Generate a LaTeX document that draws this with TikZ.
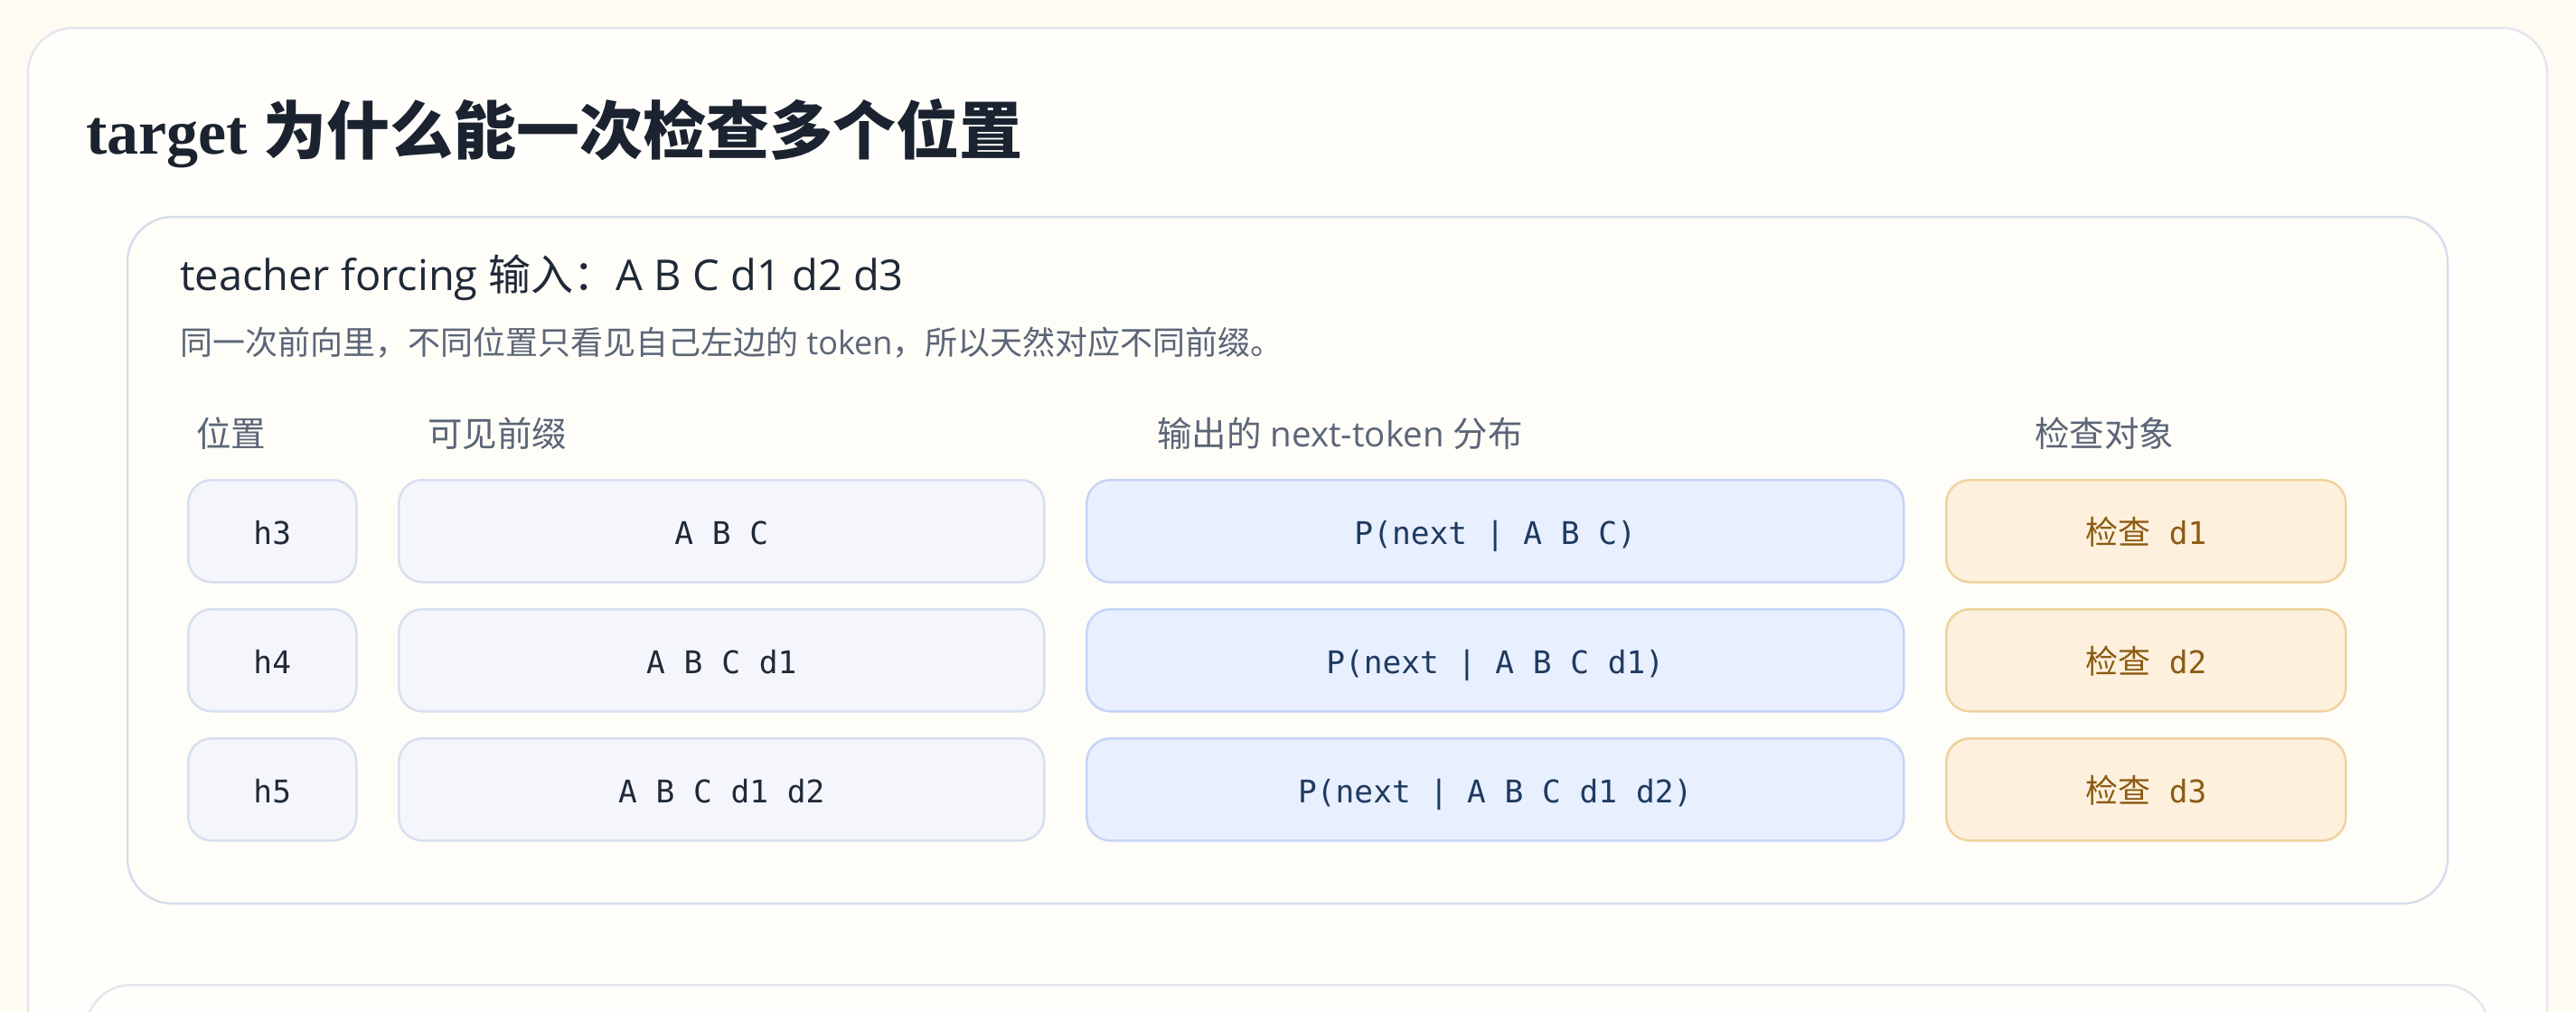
\documentclass[tikz,border=0pt]{standalone}
\usepackage{fontspec}
\setmainfont{Open Sans}
\newfontfamily\cjk{Noto Sans CJK SC}
\newfontfamily\titleserif{Liberation Serif}
\newfontfamily\monof{DejaVu Sans Mono}
\newcommand\setfs[1]{\fontsize{#1}{#1}\selectfont}
\definecolor{bgc}{HTML}{FFFBF2}
\definecolor{outerfill}{HTML}{FFFEFB}
\definecolor{outerline}{HTML}{E3E6EC}
\definecolor{innerfill}{HTML}{FEFDF8}
\definecolor{innerline}{HTML}{D6DEEC}
\definecolor{posfill}{HTML}{F4F6FC}
\definecolor{posline}{HTML}{D7DFEF}
\definecolor{distfill}{HTML}{E8EFFE}
\definecolor{distline}{HTML}{C6D4F6}
\definecolor{chkfill}{HTML}{FDF1DD}
\definecolor{chkline}{HTML}{EFD29E}
\definecolor{chktext}{HTML}{8C5B14}
\definecolor{titlec}{HTML}{1B2330}
\definecolor{headc}{HTML}{1F2937}
\definecolor{grayc}{HTML}{5B6577}
\definecolor{darktext}{HTML}{1F2937}
\definecolor{disttext}{HTML}{1F3A60}
\begin{document}
\begin{tikzpicture}[x=1pt,y=-1pt,
  card/.style={line width=2.5pt, rounded corners=50pt},
  cell/.style={draw, line width=2.5pt, rounded corners=26pt, inner sep=0pt,
    text height=30pt, text depth=0pt, anchor=north west, minimum height=113pt,
    font=\setfs{34.5}\monof},
  poscell/.style={cell, fill=posfill, draw=posline, text=darktext, minimum width=186pt},
  precell/.style={cell, fill=posfill, draw=posline, text=darktext, minimum width=714pt},
  distcell/.style={cell, fill=distfill, draw=distline, text=disttext, minimum width=904pt},
  chkcell/.style={cell, fill=chkfill, draw=chkline, text=chktext, minimum width=442pt},
  colhead/.style={anchor=base west, inner sep=0pt, text=grayc, font=\setfs{38.5}}
]
\clip (0,0) rectangle (2850,1119);
\fill[bgc] (0,0) rectangle (2850,1119);
% outer card
\draw[card, fill=outerfill, draw=outerline] (31,31) rectangle (2818,1250);
% inner card
\draw[card, fill=innerfill, draw=innerline] (141,240) rectangle (2708,1000);
% bottom card
\draw[card, fill=outerfill, draw=outerline] (95,1090) rectangle (2754,1300);

% title
\node[anchor=base west, inner sep=0pt, text=titlec] (title) at (95,170)
  {\setfs{70}\titleserif\bfseries target {\cjk\bfseries 为什么能一次检查多个位置}};
% heading
\node[anchor=base west, inner sep=0pt, text=headc] (heading) at (199,321)
  {\setfs{47}teacher forcing {\cjk 输入：}A B C d1 d2 d3};
% subtitle
\node[anchor=base west, inner sep=0pt, text=grayc] (sub) at (199,392)
  {\setfs{36}{\cjk 同一次前向里，不同位置只看见自己左边的} token{\cjk ，所以天然对应不同前缀。}};

% column headers
\node[colhead] (hpos) at (217,494) {\cjk 位置};
\node[colhead] (hpre) at (473,494) {\cjk 可见前缀};
\node[colhead] (hdist) at (1280,494) {{\cjk 输出的} next-token {\cjk 分布}};
\node[colhead] (hchk) at (2251,494) {\cjk 检查对象};

% row 1
\node[poscell] (p3) at (207,530) {h3};
\node[precell] (v3) at (440,530) {A B C};
\node[distcell] (o3) at (1201,530) {P(next | A B C)};
\node[chkcell] (c3) at (2152,530) {{\cjk\setfs{36}检查}\ d1};
% row 2
\node[poscell] (p4) at (207,673) {h4};
\node[precell] (v4) at (440,673) {A B C d1};
\node[distcell] (o4) at (1201,673) {P(next | A B C d1)};
\node[chkcell] (c4) at (2152,673) {{\cjk\setfs{36}检查}\ d2};
% row 3
\node[poscell] (p5) at (207,816) {h5};
\node[precell] (v5) at (440,816) {A B C d1 d2};
\node[distcell] (o5) at (1201,816) {P(next | A B C d1 d2)};
\node[chkcell] (c5) at (2152,816) {{\cjk\setfs{36}检查}\ d3};
\end{tikzpicture}
\end{document}
